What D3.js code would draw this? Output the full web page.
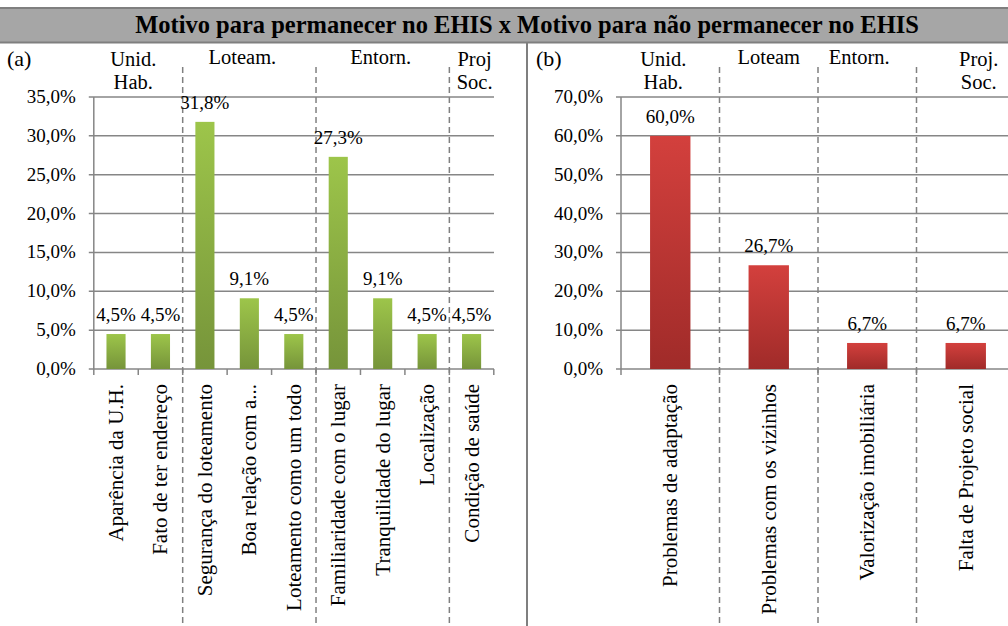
<!DOCTYPE html>
<html>
  <head>
    <meta charset="utf-8"/>
    <title>Motivo para permanecer no EHIS</title>
    <script src="https://cdnjs.cloudflare.com/ajax/libs/d3/7.8.5/d3.min.js"></script>
    <style>
      body { margin: 0; background: #fff; }
      svg { font-family: "Liberation Serif", "Times New Roman", serif; }
    </style>
  </head>
  <body>
    <script>
      var width = 1008, height = 626;

      var title = "Motivo para permanecer no EHIS x Motivo para não permanecer no EHIS";

      // panel (a)
      var catsA = ["Aparência da U.H.", "Fato de ter endereço", "Segurança do loteamento",
                   "Boa relação com a...", "Loteamento como um todo", "Familiaridade com o lugar",
                   "Tranquilidade do lugar", "Localização", "Condição de saúde"];
      var valsA = [4.5, 4.5, 31.8, 9.1, 4.5, 27.3, 9.1, 4.5, 4.5];
      var ticksA = [0, 5, 10, 15, 20, 25, 30, 35];
      var groupsA = [["Unid.", "Hab."], ["Loteam."], ["Entorn."], ["Proj", "Soc."]];
      var groupEndsA = [2, 5, 8, 9];

      // panel (b)
      var catsB = ["Problemas de adaptação", "Problemas com os vizinhos",
                   "Valorização imobiliária", "Falta de Projeto social"];
      var valsB = [60.0, 26.7, 6.7, 6.7];
      var ticksB = [0, 10, 20, 30, 40, 50, 60, 70];
      var groupsB = [["Unid.", "Hab."], ["Loteam"], ["Entorn."], ["Proj.", "Soc."]];
      var groupEndsB = [1, 2, 3, 4];

      var fmt = function (v){ return v.toFixed(1).replace(".", ",") + "%"; };

      var svg = d3.select("body").append("svg")
        .attr("width", width)
        .attr("height", height);

      var defs = svg.append("defs");
      function grad(id, top, bottom){
        var g = defs.append("linearGradient").attr("id", id)
          .attr("x1", 0).attr("y1", 0).attr("x2", 0).attr("y2", 1);
        g.append("stop").attr("offset", "0%").attr("stop-color", top);
        g.append("stop").attr("offset", "100%").attr("stop-color", bottom);
      }
      grad("green", "#9dc54a", "#76943a");
      grad("red", "#d3403d", "#a02b29");

      // title bar
      svg.append("rect").attr("x", 0).attr("y", 8).attr("width", width).attr("height", 34)
        .attr("fill", "#a6a6a6");
      svg.append("line").attr("x1", 0).attr("x2", width).attr("y1", 8).attr("y2", 8)
        .attr("stroke", "#7f7f7f").attr("stroke-width", 2);
      svg.append("line").attr("x1", 0).attr("x2", width).attr("y1", 42.5).attr("y2", 42.5)
        .attr("stroke", "#7f7f7f").attr("stroke-width", 2);
      svg.append("text").attr("x", 527).attr("y", 33)
        .attr("text-anchor", "middle").attr("font-size", 24.5).attr("font-weight", "bold")
        .text(title);

      // divider between panels
      svg.append("line").attr("x1", 527).attr("x2", 527).attr("y1", 43).attr("y2", height)
        .attr("stroke", "#7f7f7f").attr("stroke-width", 2);

      function panel(opt){
        var g = svg.append("g");
        var x = d3.scaleBand().domain(opt.cats).range([opt.x0, opt.x1]).paddingInner(0).paddingOuter(0);
        var y = d3.scaleLinear().domain([0, opt.max]).range([369, 97]);
        var bw = x.bandwidth();

        g.append("text").attr("x", opt.labelX).attr("y", 66).attr("font-size", 22).text(opt.label);

        // gridlines + y labels
        g.selectAll(".grid").data(opt.ticks).enter().append("line")
          .attr("x1", opt.x0 - 5).attr("x2", opt.gridEnd)
          .attr("y1", function (d){ return y(d); }).attr("y2", function (d){ return y(d); })
          .attr("stroke", "#868686").attr("stroke-width", 1.5);
        g.selectAll(".ylab").data(opt.ticks).enter().append("text")
          .attr("x", opt.x0 - 18).attr("y", function (d){ return y(d) + 6; })
          .attr("text-anchor", "end").attr("font-size", 19)
          .text(function (d){ return fmt(d); });
        g.append("line").attr("x1", opt.x0).attr("x2", opt.x0).attr("y1", y(opt.max)).attr("y2", y(0) + 6)
          .attr("stroke", "#868686").attr("stroke-width", 1.5);

        // category ticks
        var bounds = d3.range(1, opt.cats.length + 1).map(function (i){ return opt.x0 + i * bw; });
        g.selectAll(".ctick").data(bounds).enter().append("line")
          .attr("x1", function (d){ return d; }).attr("x2", function (d){ return d; })
          .attr("y1", y(0)).attr("y2", y(0) + 6)
          .attr("stroke", "#868686").attr("stroke-width", 1.5);

        // group dividers
        var divs = opt.groupEnds.slice(0, -1).map(function (i){ return opt.x0 + i * bw; });
        g.selectAll(".div").data(divs).enter().append("line")
          .attr("x1", function (d){ return d; }).attr("x2", function (d){ return d; })
          .attr("y1", 67).attr("y2", height)
          .attr("stroke", "#808080").attr("stroke-width", 1.5).attr("stroke-dasharray", "6,4");

        // group labels
        var starts = [0].concat(opt.groupEnds.slice(0, -1));
        opt.groups.forEach(function (lines, i){
          var cx = opt.x0 + (starts[i] + opt.groupEnds[i]) / 2 * bw + opt.groupShift[i];
          var t = g.append("text").attr("x", cx).attr("y", lines.length > 1 ? 66 : 64)
            .attr("text-anchor", "middle").attr("font-size", 20.5);
          lines.forEach(function (s, j){
            t.append("tspan").attr("x", cx).attr("dy", j ? 23 : 0).text(s);
          });
        });

        // bars
        g.selectAll(".bar").data(opt.vals).enter().append("rect")
          .attr("x", function (d, i){ return x(opt.cats[i]) + (bw - bw * opt.barFrac) / 2; })
          .attr("width", bw * opt.barFrac)
          .attr("y", function (d){ return y(d); })
          .attr("height", function (d){ return y(0) - y(d); })
          .attr("fill", "url(#" + opt.fill + ")");

        g.selectAll(".val").data(opt.vals).enter().append("text")
          .attr("x", function (d, i){ return x(opt.cats[i]) + bw / 2; })
          .attr("y", function (d){ return y(d) - 13; })
          .attr("text-anchor", "middle").attr("font-size", 19)
          .text(function (d){ return fmt(d); });

        // category labels
        g.selectAll(".cat").data(opt.cats).enter().append("text")
          .attr("transform", function (d){
            return "translate(" + (x(d) + bw / 2 + 7) + "," + 384 + ") rotate(-90)";
          })
          .attr("text-anchor", "end").attr("font-size", 21)
          .text(function (d){ return d; });
      }

      panel({ cats: catsA, vals: valsA, ticks: ticksA, max: 35, x0: 93.8, x1: 493.8, gridEnd: 494,
              groups: groupsA, groupEnds: groupEndsA, groupShift: [-5, -7, -2, 3],
              label: "(a)", labelX: 7, fill: "green", barFrac: 0.43 });
      panel({ cats: catsB, vals: valsB, ticks: ticksB, max: 70, x0: 621, x1: 1015, gridEnd: width,
              groups: groupsB, groupEnds: groupEndsB, groupShift: [-7, 0, -8, 13],
              label: "(b)", labelX: 536, fill: "red", barFrac: 0.41 });
    </script>
  </body>
</html>
